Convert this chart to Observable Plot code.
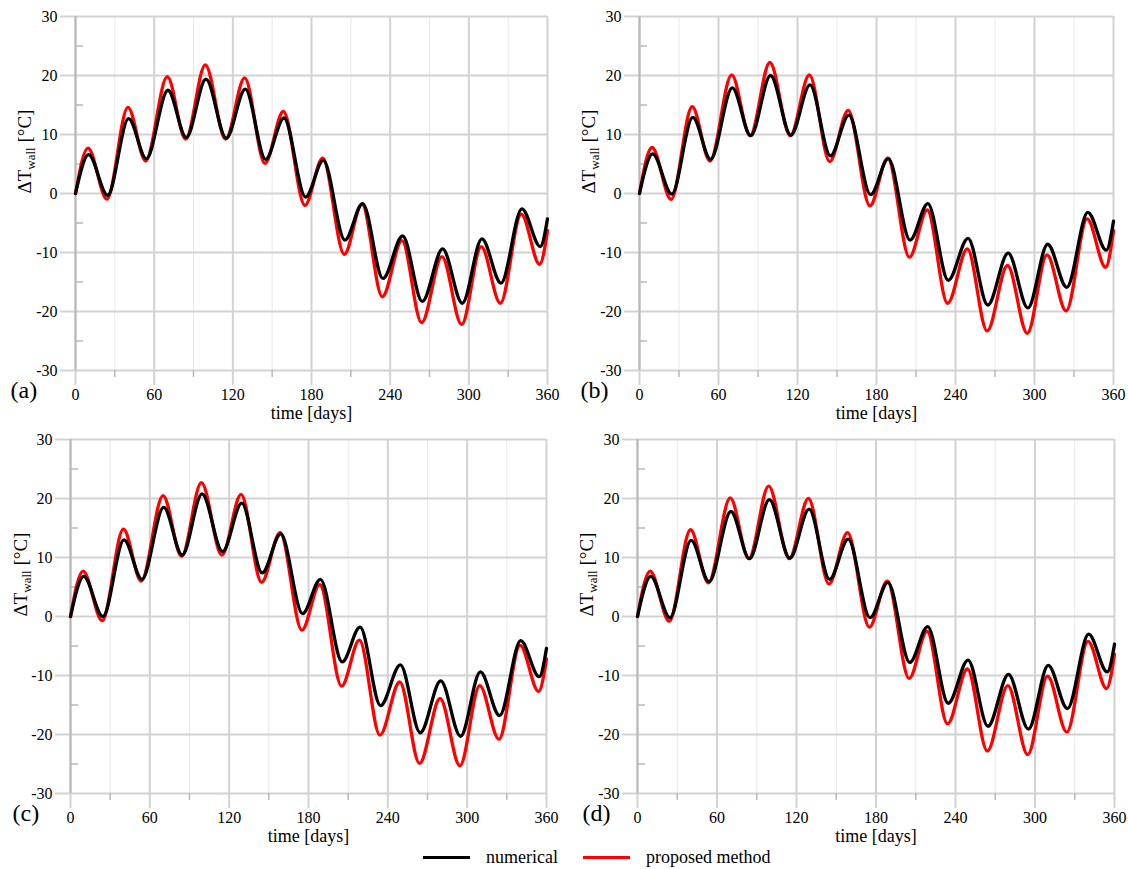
<!DOCTYPE html>
<html>
<head>
<meta charset="utf-8">
<script src="https://cdn.jsdelivr.net/npm/d3@7"></script>
<script src="https://cdn.jsdelivr.net/npm/@observablehq/plot@0.6"></script>
<style>
  body { margin: 0; background: #fff; }
  #root { position: relative; width: 1128px; height: 869px; overflow: hidden; background: #fff;
          font-family: "Liberation Serif", Tinos, "Times New Roman", "DejaVu Serif", serif; }
  .panel { position: absolute; }
  .legend-item { position: absolute; top: 845px; height: 24px; display: flex; align-items: center;
                 font-size: 18px; color: #000; white-space: nowrap; }
  .swatch { display: inline-block; width: 47px; height: 0; border-top: 3px solid; margin-right: 16px; }
</style>
</head>
<body>
<div id="root"></div>
<script>
// ---- data ----
const numericalDays = [0, 10, 24.5, 40.5, 54, 70.5, 84.5, 99.5, 115, 129.5, 145, 159, 175.5, 189, 205.5, 219, 234.5, 249.5, 264.5, 280, 295, 310, 324.5, 340.5, 354.5, 360];
const proposedDays  = [0, 9.5, 24, 40, 53.5, 70, 84, 99, 114.5, 129, 144.5, 158.5, 175, 188.5, 205, 218.5, 234, 249, 264, 279.5, 294.5, 309.5, 324, 340, 354, 360];

const aNumerical = [0, 6.6, -0.3, 12.7, 5.9, 17.5, 9.5, 19.4, 9.4, 17.7, 5.8, 12.8, -0.6, 5.6, -7.9, -1.7, -14.4, -7.2, -18.3, -9.4, -18.6, -7.7, -15.2, -2.6, -9.0, -4.3];
const aProposed  = [0, 7.7, -0.95, 14.6, 5.5, 19.8, 9.2, 21.8, 9.2, 19.6, 5.1, 13.9, -2.0, 6.0, -10.3, -1.8, -17.5, -8.0, -21.9, -10.7, -22.2, -9.0, -18.6, -3.5, -12.0, -6.3];

const bNumerical = [0, 6.7, -0.1, 12.9, 5.8, 17.9, 9.8, 20.0, 9.9, 18.4, 6.4, 13.3, -0.2, 5.9, -7.9, -1.7, -14.7, -7.6, -18.9, -10.1, -19.4, -8.6, -15.9, -3.2, -9.6, -4.7];
const bProposed  = [0, 7.8, -1.0, 14.7, 5.5, 20.1, 9.8, 22.2, 9.8, 20.1, 5.4, 14.1, -2.1, 6.0, -10.8, -2.8, -18.6, -9.4, -23.3, -12.2, -23.7, -10.4, -19.9, -4.3, -12.5, -6.3];

const cNumerical = [0, 6.8, 0.0, 13.0, 6.3, 18.5, 10.4, 20.8, 11.0, 19.2, 7.4, 14.0, 0.5, 6.3, -7.7, -1.8, -15.1, -8.2, -19.7, -10.9, -20.3, -9.4, -16.8, -4.1, -10.2, -5.4];
const cProposed  = [0, 7.7, -0.7, 14.8, 6.0, 20.5, 10.2, 22.7, 10.4, 20.7, 5.8, 14.2, -2.3, 5.4, -11.8, -4.0, -20.1, -11.1, -24.9, -13.9, -25.3, -11.7, -20.8, -4.9, -12.7, -7.2];

const dNumerical = [0, 6.8, -0.2, 12.9, 5.9, 17.8, 9.8, 19.8, 9.9, 18.2, 6.3, 13.1, -0.2, 5.8, -7.8, -1.7, -14.7, -7.4, -18.6, -9.8, -19.1, -8.3, -15.6, -3.0, -9.4, -4.7];
const dProposed  = [0, 7.7, -0.8, 14.7, 5.7, 20.1, 9.8, 22.1, 9.8, 20.0, 5.5, 14.2, -1.8, 6.0, -10.5, -2.5, -18.2, -8.9, -22.8, -11.7, -23.4, -10.1, -19.6, -4.2, -12.2, -6.4];

const xMajorTicks = [0, 60, 120, 180, 240, 300, 360];
const xMinorTicks = [30, 90, 150, 210, 270, 330];
const yMajorTicks = [-30, -20, -10, 0, 10, 20, 30];
const yMinorTicks = [-25, -15, -5, 5, 15, 25];
const panelLabels = ["(a)", "(b)", "(c)", "(d)"];
const seriesNames = ["numerical", "proposed method"];
const seriesColors = ["#000000", "#ff0000"];
const xLabel = "time [days]";
const yLabelMain = "ΔT", yLabelSub = "wall", yLabelUnit = " [°C]";
const serif = "'Liberation Serif', Tinos, 'Times New Roman', 'DejaVu Serif', serif";

// ---- layout ----
const panels = [
  {label: panelLabels[0], num: aNumerical, prop: aProposed, left: 0,   top: 0,   w: 564, h: 430, mt: 16, mb: 60, ml: 75, mr: 17, labDx: -65, yDx: -51},
  {label: panelLabels[1], num: bNumerical, prop: bProposed, left: 564, top: 0,   w: 564, h: 430, mt: 16, mb: 60, ml: 75, mr: 15, labDx: -59, yDx: -51},
  {label: panelLabels[2], num: cNumerical, prop: cProposed, left: 0,   top: 420, w: 564, h: 425, mt: 19, mb: 52, ml: 70, mr: 18, labDx: -58, yDx: -50},
  {label: panelLabels[3], num: dNumerical, prop: dProposed, left: 564, top: 420, w: 564, h: 425, mt: 19, mb: 52, ml: 73, mr: 14, labDx: -55, yDx: -51}
];

const root = document.getElementById("root");
const gridColor = "#d2d2d2", axisColor = "#b8b8b8";

for (const p of panels) {
  const numRows = p.num.map((v, i) => ({t: numericalDays[i], v}));
  const propRows = p.prop.map((v, i) => ({t: proposedDays[i], v}));
  const plotW = p.w - p.ml - p.mr;
  const yText = yLabelMain + yLabelSub + yLabelUnit;

  const svg = Plot.plot({
    width: p.w, height: p.h,
    marginTop: p.mt, marginBottom: p.mb, marginLeft: p.ml, marginRight: p.mr,
    x: {domain: [0, 360]},
    y: {domain: [-30, 30]},
    style: {fontFamily: serif, fontSize: "16px", color: "#000", background: "transparent", overflow: "visible"},
    marks: [
      Plot.ruleX(xMinorTicks, {stroke: "#e8e8e8", strokeWidth: 1}),
      Plot.ruleX(xMajorTicks, {stroke: gridColor, strokeWidth: 2}),
      Plot.ruleY(yMajorTicks, {stroke: gridColor, strokeWidth: 2}),
      Plot.axisY({ticks: yMajorTicks, tickSize: 15, tickPadding: 3, stroke: gridColor, strokeWidth: 2,
                  tickFormat: d => String(d), label: null, fontSize: 16, fontFamily: serif}),
      Plot.axisX({ticks: xMajorTicks, tickSize: 15, tickPadding: 3, stroke: gridColor, strokeWidth: 2,
                  tickFormat: d => String(d), label: null, fontSize: 16, fontFamily: serif}),
      Plot.axisX({ticks: xMinorTicks, tickSize: 7, stroke: axisColor, strokeWidth: 1.5,
                  tickFormat: () => "", label: null}),
      Plot.ruleX([0], {stroke: axisColor, strokeWidth: 2}),
      Plot.tickY(yMinorTicks, {y: d => d, stroke: axisColor, strokeWidth: 1.5, insetRight: plotW - 8}),
      Plot.line(propRows, {x: "t", y: "v", stroke: seriesColors[1], strokeWidth: 3.3, curve: "monotone-x"}),
      Plot.line(numRows, {x: "t", y: "v", stroke: seriesColors[0], strokeWidth: 3.3, curve: "monotone-x"}),
      Plot.text([xLabel], {text: d => d, frameAnchor: "bottom", dy: 43, fontSize: 18, lineAnchor: "middle", fontFamily: serif}),
      Plot.text([yText], {text: d => d, frameAnchor: "left", dx: p.yDx, rotate: -90, fontSize: 19, lineAnchor: "middle", fontFamily: serif}),
      Plot.text([p.label], {text: d => d, frameAnchor: "bottom-left", dx: p.labDx, dy: 20, fontSize: 24,
                            textAnchor: "start", lineAnchor: "middle", fontFamily: serif})
    ]
  });

  // subscript for the y label
  svg.querySelectorAll("text").forEach(t => {
    if (t.textContent === yText) {
      t.textContent = "";
      const ns = "http://www.w3.org/2000/svg";
      const s1 = document.createElementNS(ns, "tspan"); s1.textContent = yLabelMain;
      const s2 = document.createElementNS(ns, "tspan"); s2.textContent = yLabelSub;
      s2.setAttribute("font-size", "13"); s2.setAttribute("dy", "4");
      const s3 = document.createElementNS(ns, "tspan"); s3.textContent = yLabelUnit;
      s3.setAttribute("dy", "-4");
      t.append(s1, s2, s3);
    }
  });

  const div = document.createElement("div");
  div.className = "panel";
  div.style.left = p.left + "px";
  div.style.top = p.top + "px";
  div.appendChild(svg);
  root.appendChild(div);
}

// ---- legend ----
const legendX = [423, 583];
seriesNames.forEach((name, i) => {
  const item = document.createElement("div");
  item.className = "legend-item";
  item.style.left = legendX[i] + "px";
  const sw = document.createElement("span");
  sw.className = "swatch";
  sw.style.borderTopColor = seriesColors[i];
  const tx = document.createElement("span");
  tx.textContent = name;
  item.append(sw, tx);
  root.appendChild(item);
});
</script>
</body>
</html>
